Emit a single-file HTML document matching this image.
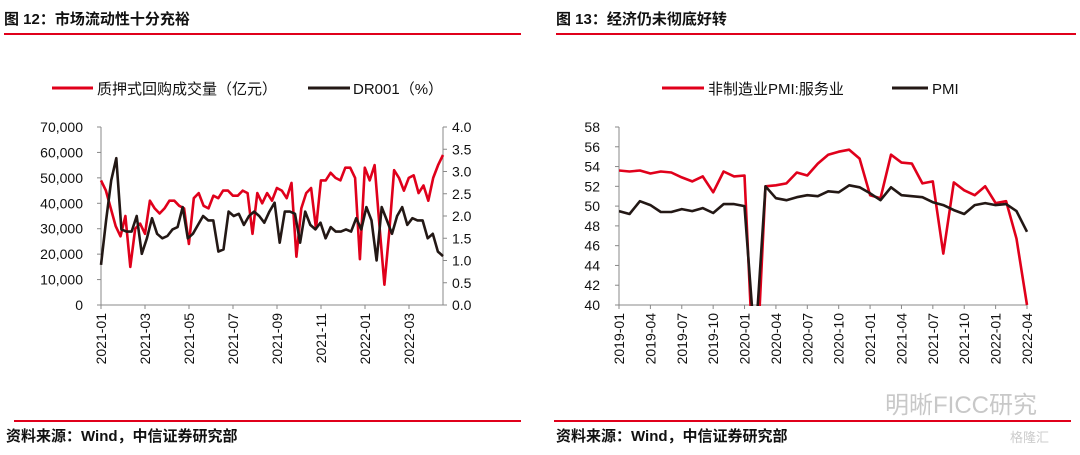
<!DOCTYPE html>
<html><head><meta charset="utf-8"><style>
body{margin:0;background:#fff;width:1080px;height:450px;overflow:hidden;font-family:"Liberation Sans","Noto Sans CJK SC",sans-serif}
svg text{font-family:"Liberation Sans","Noto Sans CJK SC",sans-serif}
</style></head><body>
<svg id="s" width="1080" height="450" xmlns="http://www.w3.org/2000/svg">
<defs><clipPath id="cr"><rect x="619" y="126" width="420" height="180"/></clipPath></defs>
<text x="4" y="24" font-size="15" fill="#111" font-weight="bold">图 12：市场流动性十分充裕</text>
<line x1="4" y1="34" x2="521" y2="34" stroke="#e0001b" stroke-width="2"/>
<text x="556" y="24" font-size="15" fill="#111" font-weight="bold">图 13：经济仍未彻底好转</text>
<line x1="556" y1="34" x2="1076" y2="34" stroke="#e0001b" stroke-width="2"/>
<g>
<line x1="52" y1="88" x2="93" y2="88" stroke="#e0001b" stroke-width="3"/>
<text x="97" y="94" font-size="15" fill="#111">质押式回购成交量（亿元）</text>
<line x1="308" y1="88" x2="350" y2="88" stroke="#231815" stroke-width="3"/>
<text x="353" y="94" font-size="15" fill="#111">DR001（%）</text>
</g>
<g>
<line x1="662" y1="88" x2="704" y2="88" stroke="#e0001b" stroke-width="3"/>
<text x="708" y="94" font-size="15" fill="#111">非制造业PMI:服务业</text>
<line x1="892" y1="88" x2="928" y2="88" stroke="#231815" stroke-width="3"/>
<text x="932" y="94" font-size="15" fill="#111">PMI</text>
</g>
<line x1="14" y1="421" x2="521" y2="421" stroke="#e0001b" stroke-width="2"/>
<line x1="554" y1="421" x2="1071" y2="421" stroke="#e0001b" stroke-width="2"/>
<text x="6" y="441" font-size="15" fill="#111" font-weight="bold">资料来源：Wind，中信证券研究部</text>
<text x="556" y="441" font-size="15" fill="#111" font-weight="bold">资料来源：Wind，中信证券研究部</text>
<text x="885" y="413" font-size="24" fill="#c8c8c8">明晰FICC研究</text>
<text x="1010" y="442" font-size="13" fill="#ccc">格隆汇</text>
<g id="L"></g>
<g id="R"></g>
</svg>
<script>
const repoVol=[49000,45000,38000,31000,27000,35000,15000,30000,32000,28000,41000,38000,36000,38000,41000,41000,39000,38000,24000,42000,44000,39000,38000,43000,42000,45000,45000,43000,43000,45000,44000,28000,44000,40000,44000,41000,46000,45000,42000,48000,19000,38000,44000,46000,30000,49000,49000,52000,50000,49000,54000,54000,50000,18000,54000,49000,55000,31000,8000,29000,53000,50000,45000,50000,51000,44000,47000,41000,50000,55000,59000];
const dr001=[0.9,1.9,2.8,3.3,1.7,1.65,1.65,2.0,1.15,1.5,1.95,1.6,1.5,1.55,1.7,1.75,2.2,1.5,1.6,1.8,2.0,1.9,1.9,1.2,1.25,2.1,2.0,2.05,1.8,2.0,2.1,2.0,1.85,2.1,2.3,1.4,2.1,2.1,2.05,1.4,2.1,1.8,1.7,1.85,1.5,1.75,1.65,1.65,1.7,1.65,1.95,1.7,2.2,1.9,1.0,2.2,1.9,1.6,2.0,2.2,1.8,1.95,1.9,1.9,1.5,1.6,1.2,1.1];
const leftTicks=[0,10000,20000,30000,40000,50000,60000,70000];
const rightTicks=[0,0.5,1,1.5,2,2.5,3,3.5,4];
const leftDates=["2021-01","2021-03","2021-05","2021-07","2021-09","2021-11","2022-01","2022-03"];
const pmiMonths=[];for(let y=2019;y<=2022;y++)for(let m=1;m<=12;m++){if(y==2022&&m>4)break;pmiMonths.push(y+"-"+String(m).padStart(2,"0"));}
const servicesPMI=[53.6,53.5,53.6,53.3,53.5,53.4,52.9,52.5,53.0,51.4,53.5,53.0,53.1,30.1,52.0,52.1,52.3,53.4,53.1,54.3,55.2,55.5,55.7,54.8,51.1,50.8,55.2,54.4,54.3,52.3,52.5,45.2,52.4,51.6,51.1,52.0,50.3,50.5,46.7,40.0];
const pmi=[49.5,49.2,50.5,50.1,49.4,49.4,49.7,49.5,49.8,49.3,50.2,50.2,50.0,35.7,52.0,50.8,50.6,50.9,51.1,51.0,51.5,51.4,52.1,51.9,51.3,50.6,51.9,51.1,51.0,50.9,50.4,50.1,49.6,49.2,50.1,50.3,50.1,50.2,49.5,47.4];
const pmiTicks=[40,42,44,46,48,50,52,54,56,58];
const NS="http://www.w3.org/2000/svg";
function mk(p,t,a,txt){const e=document.createElementNS(NS,t);for(const k in a)e.setAttribute(k,a[k]);if(txt!==undefined)e.textContent=txt;p.appendChild(e);return e;}
const L=document.getElementById('L');
const lx0=101,lx1=443,ly0=305,ly1=127;
const ly=v=>ly0-(v/70000)*(ly0-ly1);
const ry=v=>ly0-(v/4)*(ly0-ly1);
const ldx=22;
let a=mk(L,'line',{x1:lx0,y1:ly1,x2:lx0,y2:ly0,stroke:'#888'});


a=mk(L,'line',{x1:lx1,y1:ly1,x2:lx1,y2:ly0,stroke:'#888'});


a=mk(L,'line',{x1:lx0,y1:ly0,x2:lx1,y2:ly0,stroke:'#888'});


leftTicks.forEach(v=>{mk(L,'line',{x1:lx0-4,y1:ly(v),x2:lx0,y2:ly(v),stroke:'#888'});
const t=mk(L,'text',{x:lx0-18,y:ly(v)+5,'font-size':14,'text-anchor':'end',fill:'#111'},v.toLocaleString('en-US'));

});
rightTicks.forEach(v=>{mk(L,'line',{x1:lx1,y1:ry(v),x2:lx1+4,y2:ry(v),stroke:'#888'});
const t=mk(L,'text',{x:lx1+9,y:ry(v)+5,'font-size':14,fill:'#111'},v.toFixed(1));

});
leftDates.forEach((d,i)=>{const x=lx0+i*2*ldx;mk(L,'line',{x1:x,y1:ly0,x2:x,y2:ly0+4,stroke:'#888'});
const t=mk(L,'text',{x:0,y:0,'font-size':14,'text-anchor':'end',fill:'#111',transform:`translate(${x+5},${ly0+8}) rotate(-90)`},d);

});
function series(p,arr,xf,yf,col,name,clip){const pts=arr.map((v,i)=>xf(i,arr.length).toFixed(1)+','+yf(v).toFixed(1)).join(' ');
const e=mk(p,'polyline',{points:pts,fill:'none',stroke:col,'stroke-width':2.6,'stroke-linejoin':'round'});if(clip)e.setAttribute('clip-path','url(#cr)');

}
const lxf=(i,n)=>lx0+i*(lx1-lx0)/(n-1);
series(L,repoVol,lxf,ly,'#e0001b','repo-volume-line');
series(L,dr001,lxf,ry,'#231815','dr001-line');
const R=document.getElementById('R');
const rx0=619,rx1=1027,py0=305,py1=127;
const px=i=>rx0+i*(rx1-rx0)/(pmiMonths.length-1);
const py=v=>py0-(v-40)/18*(py0-py1);
a=mk(R,'line',{x1:rx0,y1:py1,x2:rx0,y2:py0,stroke:'#888'});


a=mk(R,'line',{x1:rx0,y1:py0,x2:rx1,y2:py0,stroke:'#888'});


pmiTicks.forEach(v=>{mk(R,'line',{x1:rx0-4,y1:py(v),x2:rx0,y2:py(v),stroke:'#888'});
const t=mk(R,'text',{x:rx0-19,y:py(v)+5,'font-size':14,'text-anchor':'end',fill:'#111'},v);

});
pmiMonths.forEach((d,i)=>{if(i%3)return;const x=px(i);mk(R,'line',{x1:x,y1:py0,x2:x,y2:py0+4,stroke:'#888'});
const t=mk(R,'text',{x:0,y:0,'font-size':14,'text-anchor':'end',fill:'#111',transform:`translate(${x+5},${py0+8}) rotate(-90)`},d);

});
series(R,servicesPMI,i=>px(i),py,'#e0001b','services-pmi-line',true);
series(R,pmi,i=>px(i),py,'#231815','pmi-line',true);
</script>
</body></html>
